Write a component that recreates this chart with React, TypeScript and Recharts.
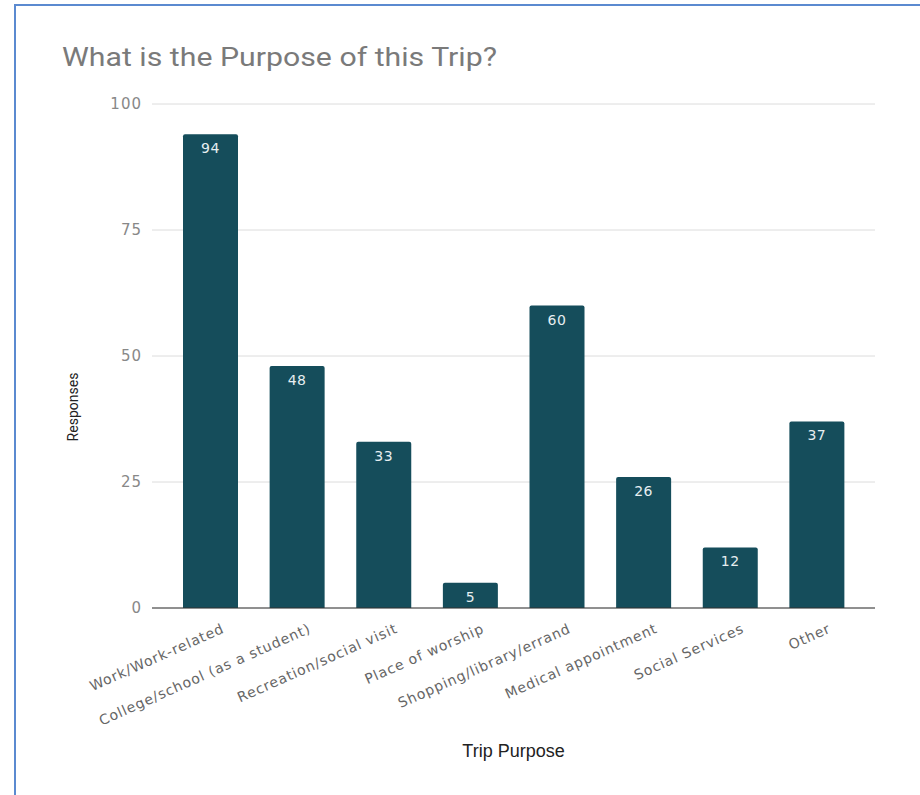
import React from 'react';
import { BarChart, Bar, XAxis, YAxis, CartesianGrid, LabelList, Label } from 'recharts';

const categories = [
  'Work/Work-related',
  'College/school (as a student)',
  'Recreation/social visit',
  'Place of worship',
  'Shopping/library/errand',
  'Medical appointment',
  'Social Services',
  'Other',
];
const responses = [94, 48, 33, 5, 60, 26, 12, 37];
const yTicks = [0, 25, 50, 75, 100];
const chartTitle = 'What is the Purpose of this Trip?';
const xAxisTitle = 'Trip Purpose';
const yAxisTitle = 'Responses';

const data = categories.map((c, i) => ({ category: c, responses: responses[i] }));

const XTick = (props: any) => {
  const { x, y, payload } = props;
  return (
    <g transform={`translate(${x + 15},${y + 22})`}>
      <text
        x={0}
        y={0}
        textAnchor="end"
        transform="rotate(-24)"
        fill="#666"
        fontFamily="DejaVu Sans"
        fontSize={14}
        letterSpacing={0.9}
      >
        {payload.value}
      </text>
    </g>
  );
};

export default function App() {
  return (
    <div style={{ position: 'absolute', left: 0, top: 0, width: 920, height: 795, background: '#fff' }}>
      <div
        style={{
          position: 'absolute',
          left: 14,
          top: 4,
          right: 0,
          bottom: 0,
          borderLeft: '2px solid #5b8ad0',
          borderTop: '2px solid #5b8ad0',
        }}
      />
      <div style={{ position: 'absolute', left: 0, top: 0 }}>
        <BarChart
          width={920}
          height={795}
          data={data}
          margin={{ top: 104, right: 45, left: 0, bottom: 0 }}
        >
          <text x={62} y={66} fill="#7a7a7a" fontFamily="Roboto" fontSize={25} textLength={435} lengthAdjust="spacingAndGlyphs">
            {chartTitle}
          </text>
          <CartesianGrid vertical={false} stroke="#dcdcdc" />
          <XAxis
            dataKey="category"
            interval={0}
            height={187}
            padding={{ left: 15, right: 15 }}
            tickLine={false}
            tickSize={0}
            axisLine={{ stroke: '#333', strokeWidth: 1 }}
            tick={<XTick />}
          >
            <Label
              value={xAxisTitle}
              position="insideBottom"
              offset={38}
              fill="#222"
              fontFamily="Liberation Sans"
              fontSize={18}
            />
          </XAxis>
          <YAxis
            width={152}
            domain={[0, 100]}
            ticks={yTicks}
            tickLine={false}
            axisLine={false}
            tickSize={0}
            tickMargin={10}
            tick={{ fill: '#888', fontSize: 15, fontFamily: 'DejaVu Sans', letterSpacing: 1 }}
          >
            <Label
              content={() => (
                <text
                  x={73}
                  y={407}
                  transform="rotate(-90 73 407)"
                  textAnchor="middle"
                  dominantBaseline="central"
                  fill="#222"
                  fontFamily="Roboto"
                  fontSize={14}
                >
                  {yAxisTitle}
                </text>
              )}
            />
          </YAxis>
          <Bar dataKey="responses" fill="#154d5b" barSize={55} radius={[2, 2, 0, 0]} isAnimationActive={false}>
            <LabelList
              dataKey="responses"
              position="insideTop"
              offset={9}
              fill="#e6eef0"
              fontSize={14}
              fontFamily="DejaVu Sans"
              letterSpacing={0.5}
            />
          </Bar>
        </BarChart>
      </div>
    </div>
  );
}
